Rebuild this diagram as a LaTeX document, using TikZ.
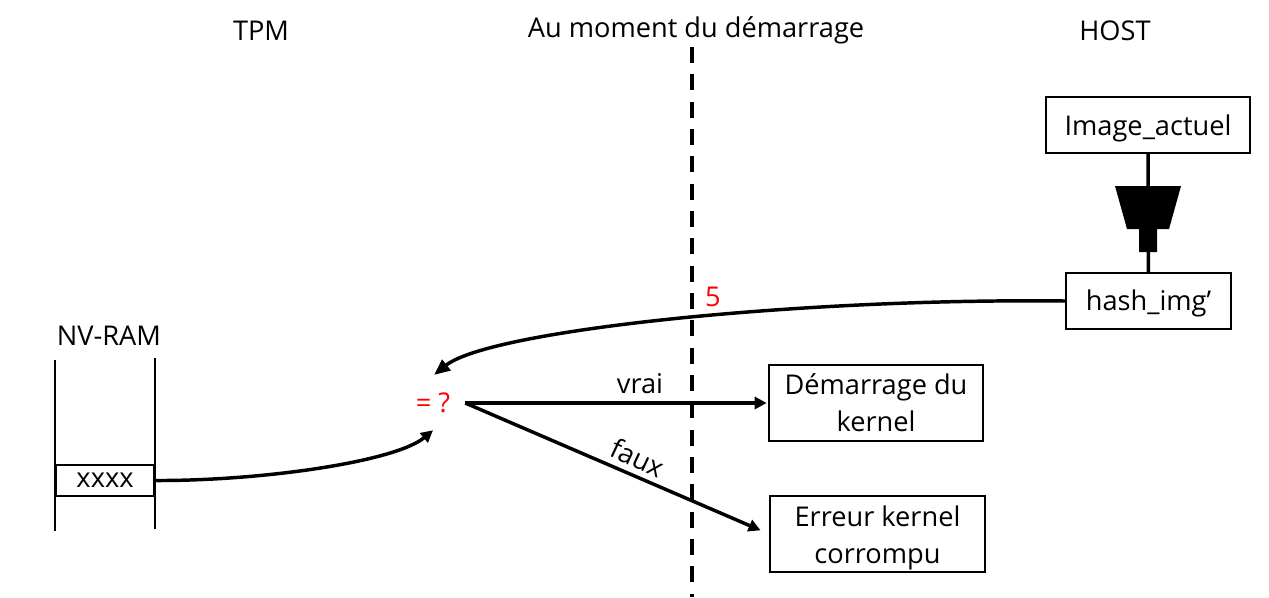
\documentclass[tikz,border=0pt]{standalone}
\usepackage{fontspec}
\setmainfont{Open Sans}
\usetikzlibrary{arrows.meta}
\tikzset{
  x=0.75pt,y=-0.75pt,
  lbl/.style={inner sep=0pt,font=\fontsize{20.4}{26}\selectfont,align=center},
  redlbl/.style={lbl,text=red},
  boxn/.style={draw=black,line width=1.5pt,fill=white,inner sep=0pt,align=center,font=\fontsize{20.4}{28}\selectfont},
  conn/.style={draw=black,line width=2.6pt},
  tip/.style={-{Triangle[length=12pt,width=10pt]}},
  tipsmall/.style={-{Triangle[length=9pt,width=9pt]}},
  rail/.style={draw=black,line width=1.5pt},
}
\begin{document}
\begin{tikzpicture}
\useasboundingbox (0,0) rectangle (1269,597);
% dashed separator
\coordinate (dtop) at (692,47);
\coordinate (dbot) at (692,597);
\draw[black,line width=2.6pt,dash pattern=on 12pt off 8.5pt] (dtop) -- (dbot);
% headers
\node[lbl] (tpm) at (261,31) {TPM};
\node[lbl] (moment) at (696,30) {Au moment du démarrage};
\node[lbl] (host) at (1115,31) {HOST};
% NV-RAM
\node[lbl] (nv) at (109,336) {NV-RAM};
\coordinate (r1t) at (55,360); \coordinate (r1b) at (55,531);
\coordinate (r2t) at (155,358); \coordinate (r2b) at (155,529);
\draw[rail] (r1t) -- (r1b);
\draw[rail] (r2t) -- (r2b);
\node[boxn,minimum width=73.5pt,minimum height=23.2pt] (xxxx) at (105,480.5) {xxxx};
% host side
\node[boxn,minimum width=153pt,minimum height=42pt] (img) at (1148,125) {\rule{0pt}{21pt}Image\_actuel};
\node[boxn,minimum width=124pt,minimum height=42pt] (hash) at (1148.5,301) {\rule{0pt}{19pt}hash\_img’};
\draw[conn] (img) -- (hash);
\fill[black] (1115,186) -- (1181,186) -- (1169,229) -- (1157,229) -- (1157,252) -- (1139,252) -- (1139,229) -- (1127,229) -- cycle;
% compare
\node[redlbl,minimum width=48pt,minimum height=40.5pt] (eq) at (433,403) {= ?};
\node[redlbl] (five) at (713,297) {5};
% result boxes
\node[boxn,minimum width=160.5pt,minimum height=57pt] (dem) at (876,403) {Démarrage du\\kernel};
\node[boxn,minimum width=161pt,minimum height=57pt] (err) at (877.5,534) {\rule{0pt}{21pt}Erreur kernel\\corrompu};
% connectors
\draw[conn,tip,shorten >=1pt] (hash.west) .. controls (800,298) and (490,330) .. (eq.north);
\draw[conn,tipsmall] (xxxx.east) .. controls (260,481) and (395,462) .. (eq.south);
\draw[conn,tipsmall,shorten >=1pt] (eq.east) -- (dem.west);
\draw[conn,tipsmall,shorten >=7pt] (eq.east) -- (err.west);
\node[lbl] (vrai) at (640,384) {vrai};
\node[lbl,rotate=-25] (faux) at (638,458) {faux};
\end{tikzpicture}
\end{document}
